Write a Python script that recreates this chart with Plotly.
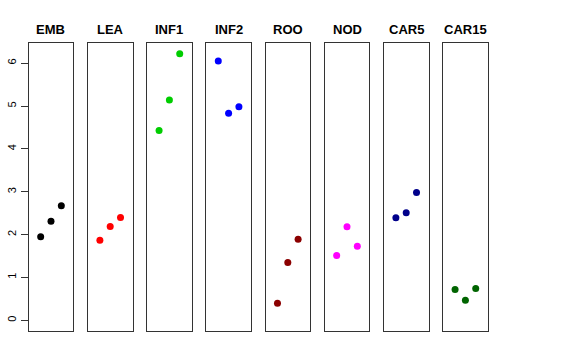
import plotly.graph_objects as go

groups = ["EMB", "LEA", "INF1", "INF2", "ROO", "NOD", "CAR5", "CAR15"]
colors = ["#000000", "#FF0000", "#00CD00", "#0000FF", "#8B0000", "#FF00FF", "#00008B", "#006400"]
reps = [1, 2, 3]
values = [
    [1.95, 2.31, 2.67],
    [1.87, 2.19, 2.40],
    [4.43, 5.14, 6.22],
    [6.05, 4.83, 4.98],
    [0.40, 1.35, 1.89],
    [1.51, 2.18, 1.73],
    [2.39, 2.51, 2.98],
    [0.72, 0.47, 0.74],
]
yticks = [0, 1, 2, 3, 4, 5, 6]

W, H = 576, 360
left0, step, pw = 28.7, 59.2, 44.6
ytop, ybot = 43, 331
ytitle = 29

fig = go.Figure()
for i, (g, c, v) in enumerate(zip(groups, colors, values)):
    n = "" if i == 0 else str(i + 1)
    x0 = (left0 + step * i) / W
    x1 = (left0 + step * i + pw) / W
    fig.add_trace(go.Scatter(x=reps, y=v, mode="markers",
                             marker=dict(color=c, size=7),
                             xaxis="x" + n, yaxis="y" + n, showlegend=False))
    fig.layout["xaxis" + n] = dict(domain=[x0, x1], range=[-0.16, 4.16],
                                   showgrid=False, zeroline=False, showticklabels=False,
                                   ticks="", showline=True, mirror=True,
                                   linecolor="#333333", linewidth=1, automargin=False,
                                   anchor="y" + n, fixedrange=True)
    ya = dict(domain=[1 - ybot / H, 1 - ytop / H], range=[-0.25, 6.47],
              showgrid=False, zeroline=False, showline=True, mirror=True,
              linecolor="#333333", linewidth=1, anchor="x" + n, fixedrange=True,
              automargin=False)
    if i == 0:
        ya.update(tickvals=yticks, ticktext=[str(t) for t in yticks],
                  ticks="outside", ticklen=7, tickcolor="#333333",
                  tickangle=-90, tickfont=dict(size=11, color="#000000"))
    else:
        ya.update(showticklabels=False, ticks="")
    fig.layout["yaxis" + n] = ya
    fig.add_annotation(x=(x0 + x1) / 2, y=1 - ytitle / H, xref="paper", yref="paper",
                       xanchor="center", yanchor="middle",
                       text="<b>" + g + "</b>", showarrow=False,
                       font=dict(size=13, color="#000000"))

fig.update_layout(width=W, height=H, margin=dict(l=0, r=0, t=0, b=0, autoexpand=False),
                  paper_bgcolor="white", plot_bgcolor="white",
                  font=dict(family="Liberation Sans, Arial, sans-serif"))
fig.write_html("out.html", config={"displayModeBar": False},
               post_script="document.body.style.margin='0';document.body.style.overflow='hidden';")
